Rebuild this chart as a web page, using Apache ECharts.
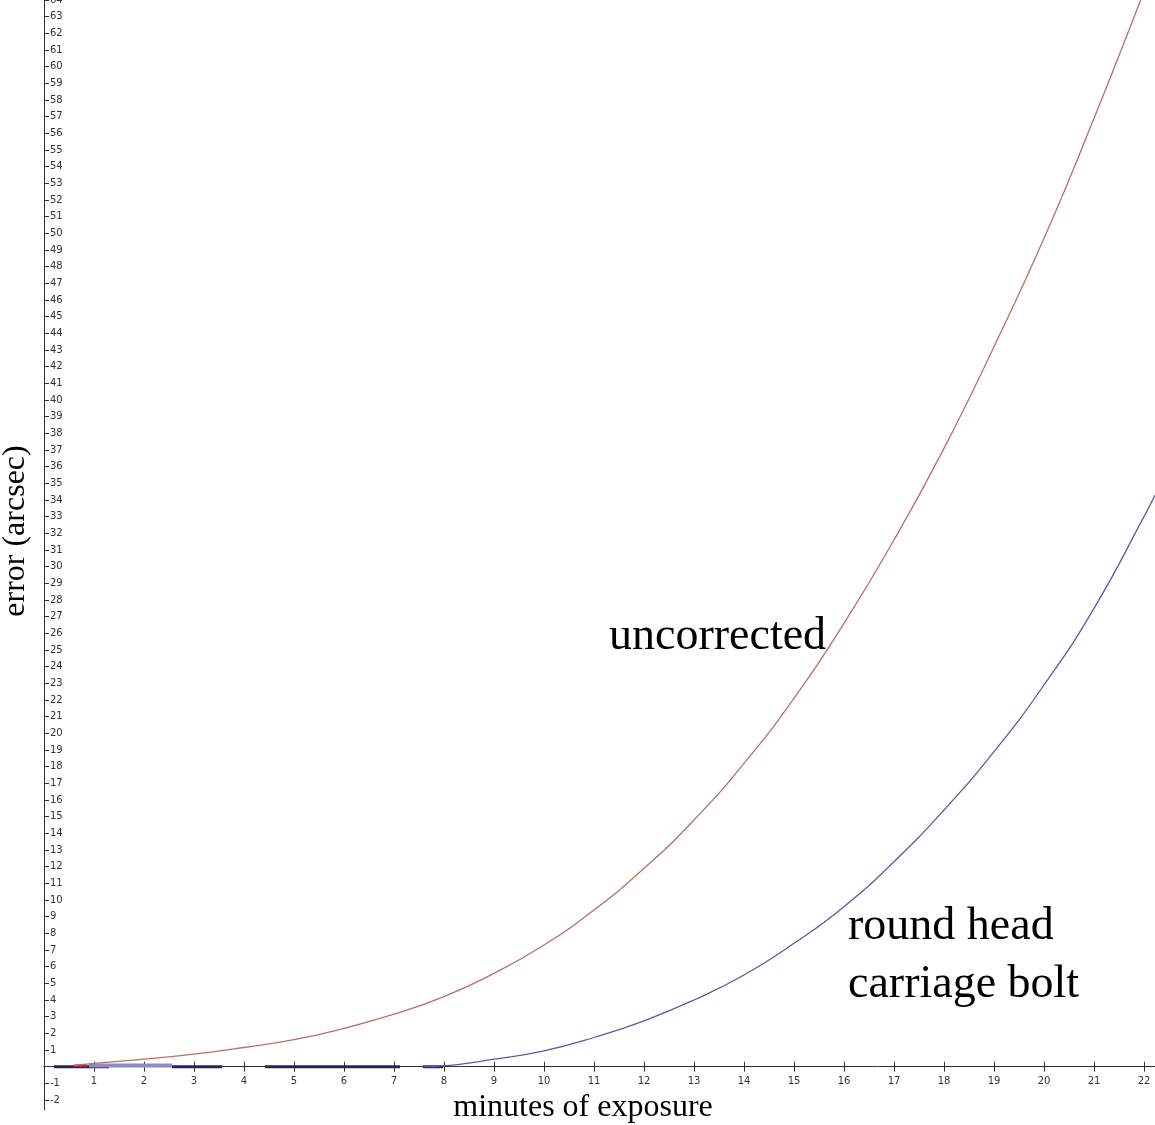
<!DOCTYPE html>
<html><head><meta charset="utf-8">
<script src="https://cdn.jsdelivr.net/npm/echarts@6/dist/echarts.min.js"></script>
<style>html,body{margin:0;padding:0;background:#fff}#c{width:1155px;height:1125px}</style>
</head><body><div id="c"></div>
<script>
// ---- data ----
const xTicks = [1,2,3,4,5,6,7,8,9,10,11,12,13,14,15,16,17,18,19,20,21,22];
const yTicks = [-2,-1,1,2,3,4,5,6,7,8,9,10,11,12,13,14,15,16,17,18,19,20,21,22,23,24,25,26,27,28,29,30,31,32,33,34,35,36,37,38,39,40,41,42,43,44,45,46,47,48,49,50,51,52,53,54,55,56,57,58,59,60,61,62,63,64];

const uncorrectedX = [0.6, 1, 2, 3, 4, 5, 6, 7, 8, 9, 10, 11, 12, 13, 14, 15, 16, 17, 18, 19, 20, 21, 22, 22.22];
const uncorrectedY = [0.08, 0.2, 0.45, 0.75, 1.15, 1.62, 2.3, 3.15, 4.2, 5.6, 7.3, 9.4, 11.9, 14.8, 18.2, 22.1, 26.6, 31.6, 37.1, 43.2, 49.7, 56.9, 64.5, 66.2];

const boltX = [7.6, 8, 9, 10, 11, 12, 13, 14, 15, 16, 17, 18, 19, 20, 21, 22, 22.22];
const boltY = [0, 0.05, 0.45, 0.95, 1.75, 2.75, 4.0, 5.5, 7.4, 9.6, 12.3, 15.4, 18.9, 22.9, 27.5, 33.0, 34.3];

// short thick strokes lying on the zero line (x start, x end, y)
const darkSegments = [[0.2, 1.3, 0], [2.56, 3.56, 0], [4.42, 7.12, 0], [7.58, 7.98, 0]];
const lightSegments = [[0.9, 2.56, 0.07]];
const purpleSegments = [[0.6, 0.86, 0.05]];

const xMin = 0, xMax = 22.22, yMin = -2.6, yMax = 64;

// ---- chart ----
const chart = echarts.init(document.getElementById('c'), null, {renderer: 'canvas'});
const zip = (xs, ys) => xs.map((x, i) => [x, ys[i]]);
const segSeries = (segs, color, width) => segs.map(s => ({
  type: 'line', data: [[s[0], s[2]], [s[1], s[2]]], symbol: 'none', silent: true,
  lineStyle: {color: color, width: width, cap: 'butt'}, z: 3
}));
const tickFont = {fontSize: 10, fontFamily: 'DejaVu Sans', color: '#333'};

chart.setOption({
  animation: false,
  backgroundColor: '#fff',
  grid: {left: 44, right: 0, top: 0, bottom: 15, containLabel: false, outerBoundsMode: 'none'},
  xAxis: [
    {type: 'value', min: xMin, max: xMax, position: 'bottom',
     axisLine: {onZero: true, onZeroAxisIndex: 0, lineStyle: {color: '#333', width: 1}},
     axisTick: {show: true, length: 5, customValues: xTicks, lineStyle: {color: '#333'}},
     axisLabel: Object.assign({customValues: xTicks, margin: -34}, tickFont),
     splitLine: {show: false}},
    {type: 'value', min: xMin, max: xMax, position: 'top',
     axisLine: {show: false, onZero: true, onZeroAxisIndex: 0},
     axisTick: {show: true, length: 5, customValues: xTicks, lineStyle: {color: '#333'}},
     axisLabel: {show: false},
     splitLine: {show: false}}
  ],
  yAxis: {type: 'value', min: yMin, max: yMax, position: 'left',
    axisLine: {show: true, onZero: false, lineStyle: {color: '#333', width: 1}},
    axisTick: {show: true, inside: true, length: 5, customValues: yTicks, lineStyle: {color: '#333'}},
    axisLabel: Object.assign({inside: true, customValues: yTicks, margin: 6, align: 'left'}, tickFont),
    splitLine: {show: false}},
  series: [
    ...segSeries(darkSegments, '#23235e', 3),
    ...segSeries(lightSegments, '#8c8cc8', 4),
    ...segSeries(purpleSegments, '#9a2c6a', 2.5),
    {name: 'uncorrected', type: 'line', data: zip(uncorrectedX, uncorrectedY), smooth: true, symbol: 'none',
     lineStyle: {color: '#c06a6a', width: 1.3}, z: 4},
    {name: 'round head carriage bolt', type: 'line', data: zip(boltX, boltY), smooth: true, symbol: 'none',
     lineStyle: {color: '#5a5aa6', width: 1.3}, z: 4}
  ],
  graphic: [
    {type: 'text', x: 609, y: 637, style: {text: 'uncorrected', font: '46px "Liberation Serif"', fill: '#000', textAlign: 'left', textVerticalAlign: 'middle'}},
    {type: 'text', x: 848, y: 927, style: {text: 'round head', font: '46px "Liberation Serif"', fill: '#000', textAlign: 'left', textVerticalAlign: 'middle'}},
    {type: 'text', x: 848, y: 985, style: {text: 'carriage bolt', font: '46px "Liberation Serif"', fill: '#000', textAlign: 'left', textVerticalAlign: 'middle'}},
    {type: 'text', x: 583, y: 1108, style: {text: 'minutes of exposure', font: '32px "Liberation Serif"', fill: '#000', textAlign: 'center', textVerticalAlign: 'middle'}},
    {type: 'text', x: 16, y: 531, rotation: Math.PI / 2, style: {text: 'error (arcsec)', font: '32px "Liberation Serif"', fill: '#000', textAlign: 'center', textVerticalAlign: 'middle'}}
  ]
});
</script>
</body></html>
